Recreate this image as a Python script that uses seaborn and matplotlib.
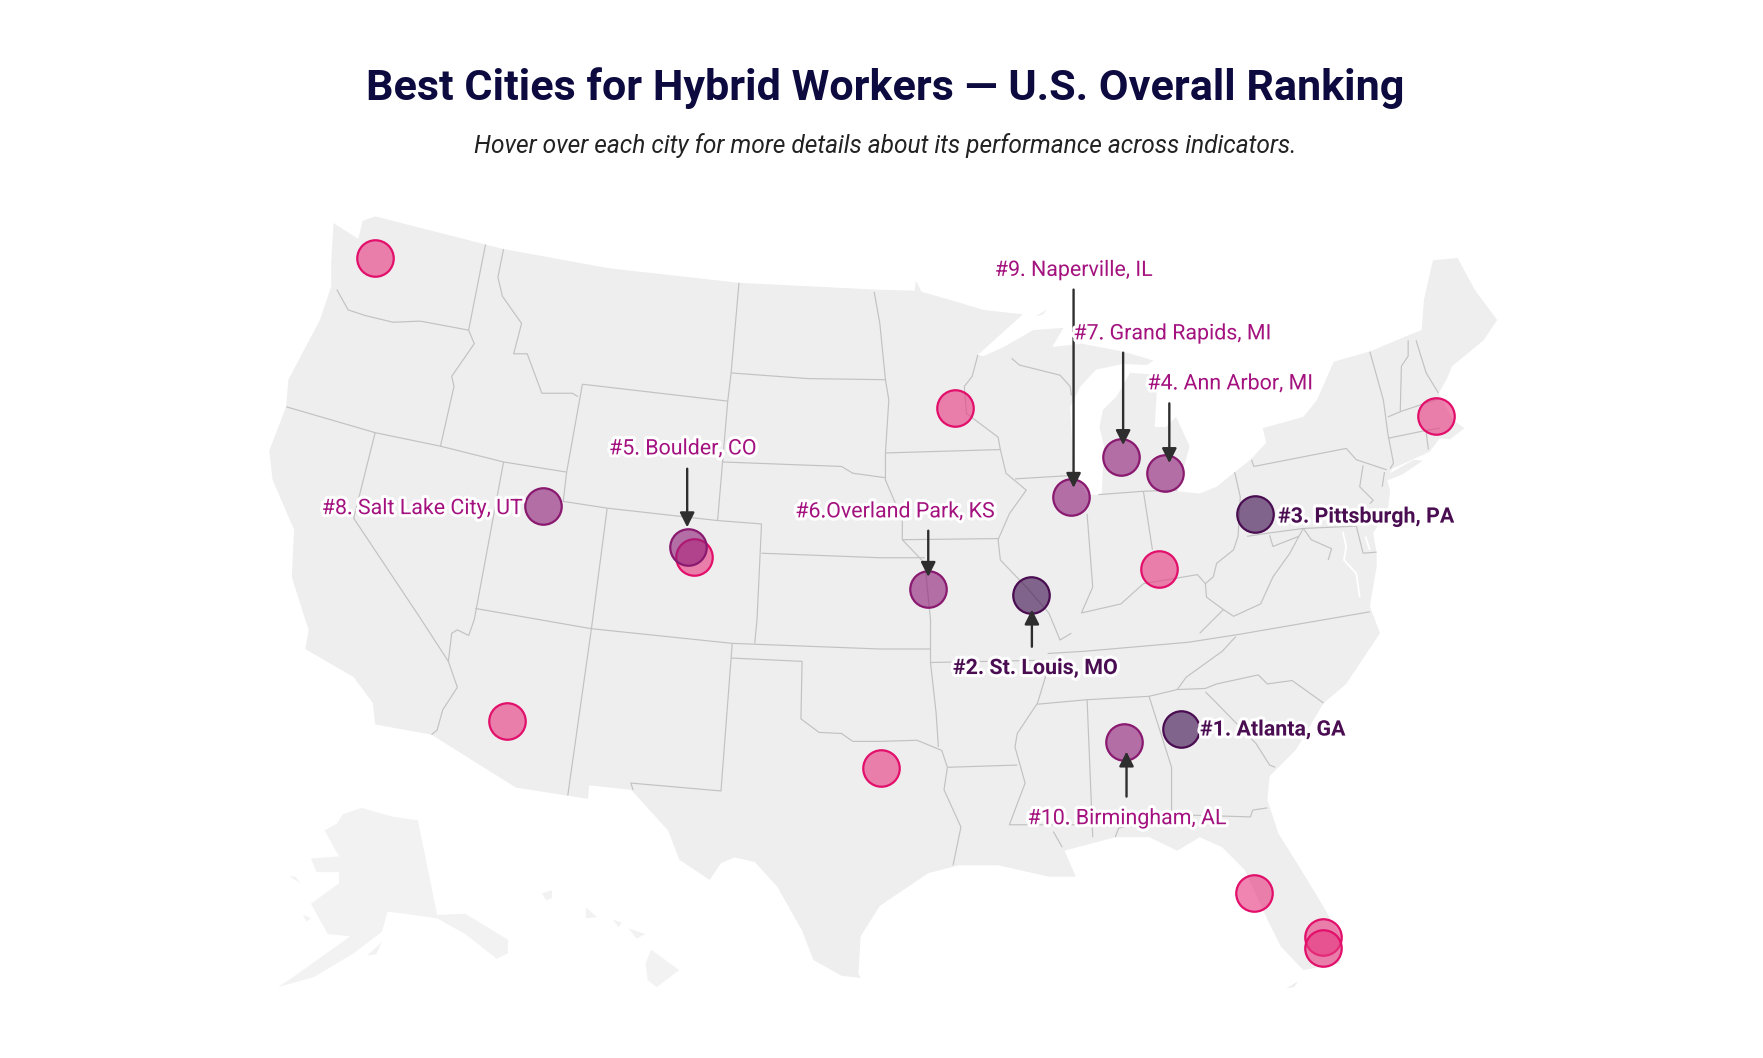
import matplotlib
matplotlib.use("Agg")
import matplotlib.pyplot as plt
import matplotlib.patheffects as pe
from matplotlib.collections import LineCollection
from matplotlib.colors import to_rgba
import pandas as pd
import seaborn as sns

# =============================================
# Data (map units)
# =============================================
city_names = ["Atlanta, GA", "St. Louis, MO", "Pittsburgh, PA", "Ann Arbor, MI", "Boulder, CO",
              "Overland Park, KS", "Grand Rapids, MI", "Salt Lake City, UT", "Naperville, IL",
              "Birmingham, AL", "Seattle", "Minneapolis", "Boston", "Colorado Springs",
              "Cincinnati", "Phoenix", "Dallas", "Tampa", "Fort Lauderdale", "Miami"]
city_x = [1048.6, 915.6, 1114.1, 1034.2, 610.5, 824, 995.1, 482, 950.5, 997.8,
          332.7, 847.7, 1274.5, 616, 1029.2, 449.7, 781.7, 1112.9, 1174.6, 1174.6]
city_y = [646.6, 528.2, 456.3, 419.6, 485.9, 522.6, 405.4, 449, 441.5, 658.4,
          229.3, 362, 369.3, 494.2, 505, 639.5, 681.5, 793, 831.5, 841.3]
city_tier = ["top3"] * 3 + ["top10"] * 7 + ["other"] * 10

mainland = [
    (333, 192), (431, 217), (447, 221), (540, 238), (656, 251), (777, 257), (812, 258), (813, 249),
    (818, 259), (843, 266), (873, 275), (908, 279), (888, 297), (868, 315), (873, 316), (891, 308),
    (917, 293), (944, 291), (934, 308), (960, 305), (997, 312), (1024, 320), (1018, 324), (997, 323),
    (973, 328), (959, 343), (950, 361), (953, 420), (965, 439), (978, 439), (980, 396), (976, 379),
    (979, 364), (991, 352), (997, 342), (1003, 331), (1020, 332), (1027, 346), (1025, 379), (1035, 379),
    (1044, 370), (1056, 396), (1045, 436), (1065, 438), (1080, 432), (1096, 419), (1110, 408),
    (1124, 393), (1121, 380), (1157, 370), (1169, 355), (1184, 321), (1216, 312), (1254, 296),
    (1262, 293), (1264, 266), (1272, 231), (1294, 229), (1309, 257), (1329, 284), (1317, 302),
    (1289, 325), (1284, 337), (1277, 349), (1290, 373), (1300, 380), (1287, 390), (1278, 389),
    (1269, 401), (1236, 416), (1231, 425), (1234, 435), (1232, 453), (1219, 473), (1222, 491),
    (1222, 503), (1216, 538), (1225, 562), (1209, 586), (1195, 607), (1175, 624), (1150, 666),
    (1127, 689), (1125, 710), (1135, 740), (1155, 772), (1175, 805), (1192, 834), (1189, 855),
    (1157, 861), (1137, 840), (1125, 816), (1105, 772), (1085, 752), (1065, 743), (1045, 755),
    (1020, 743), (990, 743), (945, 755), (955, 778), (931, 778), (886, 768), (851, 768), (824, 775),
    (781, 804), (764, 831), (762, 864), (764, 868), (747, 866), (722, 852), (712, 826), (690, 787),
    (670, 765), (652, 761), (640, 766), (630, 781), (603, 763), (593, 737), (563, 704), (560, 701),
    (523, 697), (522, 709), (458, 699), (383, 652), (333, 643), (331, 624), (314, 601), (271, 576),
    (274, 559), (271, 550), (259, 512), (261, 470), (242, 426), (239, 400), (254, 361), (256, 337),
    (284, 284), (294, 254), (294, 234), (296, 198), (318, 212), (322, 196),
]
alaska = [
    (321, 717), (349, 725), (371, 728), (388, 812), (413, 811), (451, 834), (451, 846), (441, 851),
    (413, 829), (388, 815), (359, 811), (344, 809), (339, 827), (314, 846), (279, 867), (247, 876),
    (259, 868), (311, 831), (291, 829), (276, 802), (301, 784), (301, 774), (281, 774), (276, 762),
    (301, 760), (288, 737), (299, 731), (304, 723),
]
small_islands = [
    [(578, 843), (603, 861), (583, 876), (575, 870), (573, 855)],
    [(558, 824), (573, 829), (565, 833)],
    [(520, 805), (530, 814), (520, 815)],
    [(544, 816), (552, 819), (549, 823)],
    [(481, 793), (490, 790), (490, 797), (485, 799)],
    [(257, 778), (267, 784), (262, 778)],
    [(269, 812), (276, 815), (272, 818)],
    [(326, 848), (339, 836), (334, 847)],
]
mainland_islands = [
    [(1263, 409), (1255, 408), (1232, 421), (1230, 427), (1245, 421)],
    [(919, 281), (929, 275), (926, 279)],
    [(1142, 877), (1152, 871), (1149, 876)],
]
water = [
    [(1192, 472), (1195, 485), (1193, 497), (1204, 509), (1207, 530)],
    [(1212, 476), (1216, 488)],
]
borders = [
    [(299, 257), (309, 275), (324, 280), (349, 286), (373, 285), (416, 293)],
    [(431, 217), (416, 293), (421, 305), (401, 334), (403, 343), (391, 396)],
    [(447, 221), (442, 246), (446, 263), (463, 287), (456, 314), (468, 314), (481, 349), (508, 349), (513, 352)],
    [(254, 361), (333, 384), (391, 396), (447, 410), (503, 419)],
    [(517, 341), (503, 419), (500, 445), (539, 451), (637, 462), (676, 465), (672, 550), (670, 571)],
    [(517, 341), (646, 356)],
    [(656, 251), (649, 331), (646, 356), (637, 462)],
    [(649, 331), (717, 336), (786, 337)],
    [(641, 410), (747, 414), (757, 420), (786, 424)],
    [(676, 491), (781, 495), (821, 495)],
    [(333, 384), (314, 460), (374, 550), (398, 587), (406, 610), (393, 630), (388, 648), (383, 652)],
    [(447, 410), (421, 550), (416, 564), (406, 559), (401, 562), (398, 587)],
    [(422, 540), (525, 558), (650, 571), (781, 576), (826, 576)],
    [(539, 451), (525, 558), (504, 706)],
    [(650, 571), (649, 584), (640, 702), (560, 695), (562, 701)],
    [(649, 584), (712, 587), (711, 638), (727, 650), (747, 651), (757, 658), (781, 658), (814, 657), (836, 666), (841, 681)],
    [(776, 259), (781, 287), (786, 337), (789, 355), (786, 402), (786, 426), (801, 461), (801, 479), (821, 500), (826, 550), (826, 588), (831, 633), (833, 663)],
    [(786, 402), (888, 399)],
    [(868, 315), (863, 334), (856, 343), (858, 367), (886, 388), (888, 399), (893, 420), (911, 435), (896, 456), (886, 479), (888, 497), (911, 521), (931, 544), (941, 568), (951, 562)],
    [(901, 425), (951, 422)],
    [(898, 318), (905, 324), (941, 333), (950, 343), (951, 351)],
    [(801, 479), (886, 478)],
    [(965, 456), (970, 521), (960, 544), (995, 536), (1015, 518), (1045, 513), (1063, 510), (1070, 518)],
    [(975, 439), (1015, 436), (1045, 435)],
    [(1015, 436), (1023, 488)],
    [(1096, 419), (1101, 441), (1099, 476), (1095, 488), (1080, 500), (1077, 512), (1070, 518), (1071, 530), (1086, 541), (1095, 547), (1119, 536), (1130, 512), (1145, 491), (1153, 476), (1157, 469)],
    [(1107, 476), (1127, 473), (1157, 469), (1204, 467)],
    [(1127, 475), (1130, 485), (1153, 476)],
    [(1157, 469), (1164, 479), (1182, 487), (1179, 497)],
    [(1111, 408), (1113, 414), (1195, 398), (1204, 408), (1231, 417)],
    [(1210, 413), (1207, 432), (1219, 444), (1216, 447)],
    [(1229, 419), (1227, 432)],
    [(1216, 312), (1228, 355), (1232, 385), (1237, 411), (1234, 416)],
    [(1232, 370), (1244, 365), (1277, 354)],
    [(1232, 389), (1266, 382), (1278, 380)],
    [(1266, 384), (1268, 399)],
    [(1250, 302), (1250, 316), (1244, 325), (1243, 365)],
    [(1257, 302), (1266, 331), (1277, 349)],
    [(1204, 467), (1210, 491), (1222, 490)],
    [(930, 580), (963, 578), (1055, 570), (1100, 563), (1216, 543)],
    [(826, 588), (925, 586), (928, 601), (921, 624), (903, 651), (901, 663), (910, 695), (896, 732), (968, 732)],
    [(841, 681), (903, 679)],
    [(841, 681), (838, 701), (853, 734), (846, 768)],
    [(935, 738), (943, 752)],
    [(965, 621), (970, 743)],
    [(921, 625), (965, 621), (1020, 618), (1045, 612), (1070, 611), (1080, 607), (1117, 599), (1125, 607), (1147, 604), (1175, 624)],
    [(1020, 618), (1040, 681), (1040, 723), (1110, 725), (1112, 719), (1125, 717)],
    [(990, 743), (993, 735), (1040, 723)],
    [(1070, 614), (1080, 624), (1115, 660), (1127, 679), (1132, 681)],
    [(1097, 565), (1085, 578), (1053, 601), (1045, 612)],
    [(1065, 562), (1075, 552), (1086, 541)],
]

# =============================================
# Styles
# =============================================
sns.set_theme(style="white")
plt.rcParams["font.family"] = ["Roboto", "DejaVu Sans"]

fig = plt.figure(figsize=(17.63, 10.58), dpi=100)
ax = fig.add_axes([0, 0, 1, 1])

ax.fill(*zip(*mainland), color="#eeeeee", lw=0, zorder=1)
ax.fill(*zip(*alaska), color="#f2f2f2", lw=0, zorder=1)
for island in small_islands:
    ax.fill(*zip(*island), color="#f2f2f2", lw=0, zorder=1)
for island in mainland_islands:
    ax.fill(*zip(*island), color="#eeeeee", lw=0, zorder=1)
ax.add_collection(LineCollection(borders, colors="#c2c2c2", linewidths=0.85, zorder=2))
ax.add_collection(LineCollection(water, colors="white", linewidths=1.3, zorder=2))

# =============================================
# Cities
# =============================================
cities = pd.DataFrame({"name": city_names, "x": city_x, "y": city_y, "tier": city_tier})
tier_styles = {"other": ("#e63a80", "#e2106b"),
               "top10": ("#8e1f78", "#8a1a70"),
               "top3": ("#3f0f4e", "#4a0d52")}
for tier, (fill, edge) in tier_styles.items():
    sns.scatterplot(data=cities[cities["tier"] == tier], x="x", y="y", s=690, ax=ax, zorder=3, legend=False)
    pts = ax.collections[-1]
    pts.set_facecolor(to_rgba(fill, 0.62))
    pts.set_edgecolor(edge)
    pts.set_linewidth(1.6)

# =============================================
# Labels and arrows
# =============================================
arrows = [((610, 416), (610, 468)), ((824, 471), (824, 512)), ((953, 257), (953, 433)),
          ((997, 313), (997, 395)), ((1038, 358), (1038, 411)), ((916, 574), (916, 541)),
          ((1000, 707), (1000, 667))]
for tail, tip in arrows:
    ax.annotate("", xy=tip, xytext=tail, zorder=4,
                arrowprops=dict(arrowstyle="-|>", color="#2e2e2e", lw=1.7, mutation_scale=22, shrinkA=0, shrinkB=0))

labels = [("#9. Naperville, IL", 953, 240, False), ("#7. Grand Rapids, MI", 1040.6, 296.3, False),
          ("#4. Ann Arbor, MI", 1092, 340.7, False), ("#5. Boulder, CO", 606, 398.4, False),
          ("#6.Overland Park, KS", 794.4, 454.3, False), ("#8. Salt Lake City, UT", 374.7, 451.4, False),
          ("#3. Pittsburgh, PA", 1212.5, 459, True), ("#2. St. Louis, MO", 919.1, 593.4, True),
          ("#1. Atlanta, GA", 1129.8, 648, True), ("#10. Birmingham, AL", 1000.3, 726.6, False)]
for text, lx, ly, top in labels:
    ax.text(lx, ly, text, ha="center", va="center", fontsize=15.4,
            color="#4a0d52" if top else "#a3127e", fontweight="bold" if top else "normal", zorder=5,
            path_effects=[pe.withStroke(linewidth=4.5, foreground="white")])

ax.text(785.5, 78, "Best Cities for Hybrid Workers — U.S. Overall Ranking", ha="center", va="center",
        fontsize=31.1, fontweight="bold", color="#0c0a3e")
ax.text(785.5, 129.6, "Hover over each city for more details about its performance across indicators.",
        ha="center", va="center", fontsize=17.65, style="italic", color="#222222")

ax.set_xlim(0, 1565)
ax.set_ylim(939, 0)
ax.axis("off")

fig.savefig("out.png", dpi=100, facecolor="white")
